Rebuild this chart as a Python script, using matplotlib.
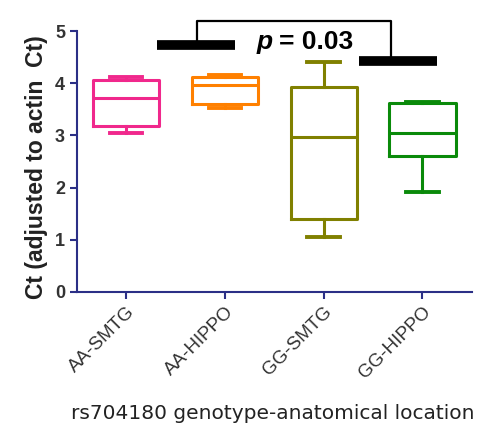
import matplotlib
matplotlib.use("Agg")
import matplotlib.pyplot as plt

plt.rcParams['font.family'] = ['Liberation Sans', 'DejaVu Sans']

# box summary values
groups = ["AA-SMTG", "AA-HIPPO", "GG-SMTG", "GG-HIPPO"]
whislo = [3.05, 3.52, 1.05, 1.91]
q1 = [3.18, 3.60, 1.40, 2.60]
med = [3.72, 3.96, 2.97, 3.05]
q3 = [4.07, 4.12, 3.92, 3.62]
whishi = [4.12, 4.15, 4.41, 3.64]
colors = ["#f0288c", "#ff8000", "#808000", "#0a8a0a"]
p_text = "= 0.03"

axis_col = "#2b2f86"
text_col = "#333333"

fig = plt.figure(figsize=(4.8, 4.25), dpi=100)
ax = fig.add_axes([0.160, 0.313, 0.823, 0.614])

stats = []
for i, g in enumerate(groups):
    stats.append(dict(label=g, whislo=whislo[i], q1=q1[i], med=med[i],
                      q3=q3[i], whishi=whishi[i], fliers=[]))

pos = list(range(len(groups)))
bp = ax.bxp(stats, positions=pos, widths=0.67, capwidths=0.33,
            showfliers=False, patch_artist=False)
for i, c in enumerate(colors):
    for part in ("boxes", "medians"):
        bp[part][i].set_color(c)
        bp[part][i].set_linewidth(2.2)
    for j in (2 * i, 2 * i + 1):
        bp["whiskers"][j].set_color(c)
        bp["whiskers"][j].set_linewidth(2.2)
        bp["caps"][j].set_color(c)
        bp["caps"][j].set_linewidth(2.8)

ax.set_xlim(-0.5, 3.5)
ax.set_ylim(0, 5)
ax.set_yticks([0, 1, 2, 3, 4, 5])
for s in ("top", "right"):
    ax.spines[s].set_visible(False)
for s in ("left", "bottom"):
    ax.spines[s].set_color(axis_col)
    ax.spines[s].set_linewidth(1.5)
ax.tick_params(axis="both", colors=axis_col, width=1.5, length=5, direction="out")
ax.tick_params(axis="y", labelcolor=text_col, labelsize=13)
ax.tick_params(axis="x", labelcolor=text_col, labelsize=13.5)
for lab in ax.get_yticklabels():
    lab.set_fontweight("bold")
ax.set_xticks(pos)
ax.set_xticklabels(groups, rotation=45, ha="right", rotation_mode="anchor")

ax.set_ylabel("Ct (adjusted to actin  Ct)", fontsize=16.5, fontweight="bold",
              color="#222222")
ax.yaxis.set_label_coords(-0.074, 0.48)
ax.set_xlabel("rs704180 genotype-anatomical location", fontsize=14.5,
              color="#222222", family="DejaVu Sans")
ax.xaxis.set_label_coords(0.497, -0.43)

# significance bracket between AA and GG pairs
left_bar = (0.31, 1.10, 4.73)
right_bar = (2.36, 3.15, 4.42)
ax.plot(left_bar[:2], [left_bar[2]] * 2, color="black", lw=7,
        solid_capstyle="butt", clip_on=False)
ax.plot(right_bar[:2], [right_bar[2]] * 2, color="black", lw=7,
        solid_capstyle="butt", clip_on=False)
xl, xr, ytop = 0.72, 2.68, 5.2
ax.plot([xl, xl, xr, xr], [left_bar[2] + 0.05, ytop, ytop, right_bar[2] + 0.05],
        color="black", lw=1.6, clip_on=False)
ax.text(1.48, 4.79, "p", fontsize=19, fontweight="bold", fontstyle="italic",
        ha="right", va="center")
ax.text(1.55, 4.79, p_text, fontsize=19, fontweight="bold",
        ha="left", va="center")

fig.savefig("out.png", dpi=100)
